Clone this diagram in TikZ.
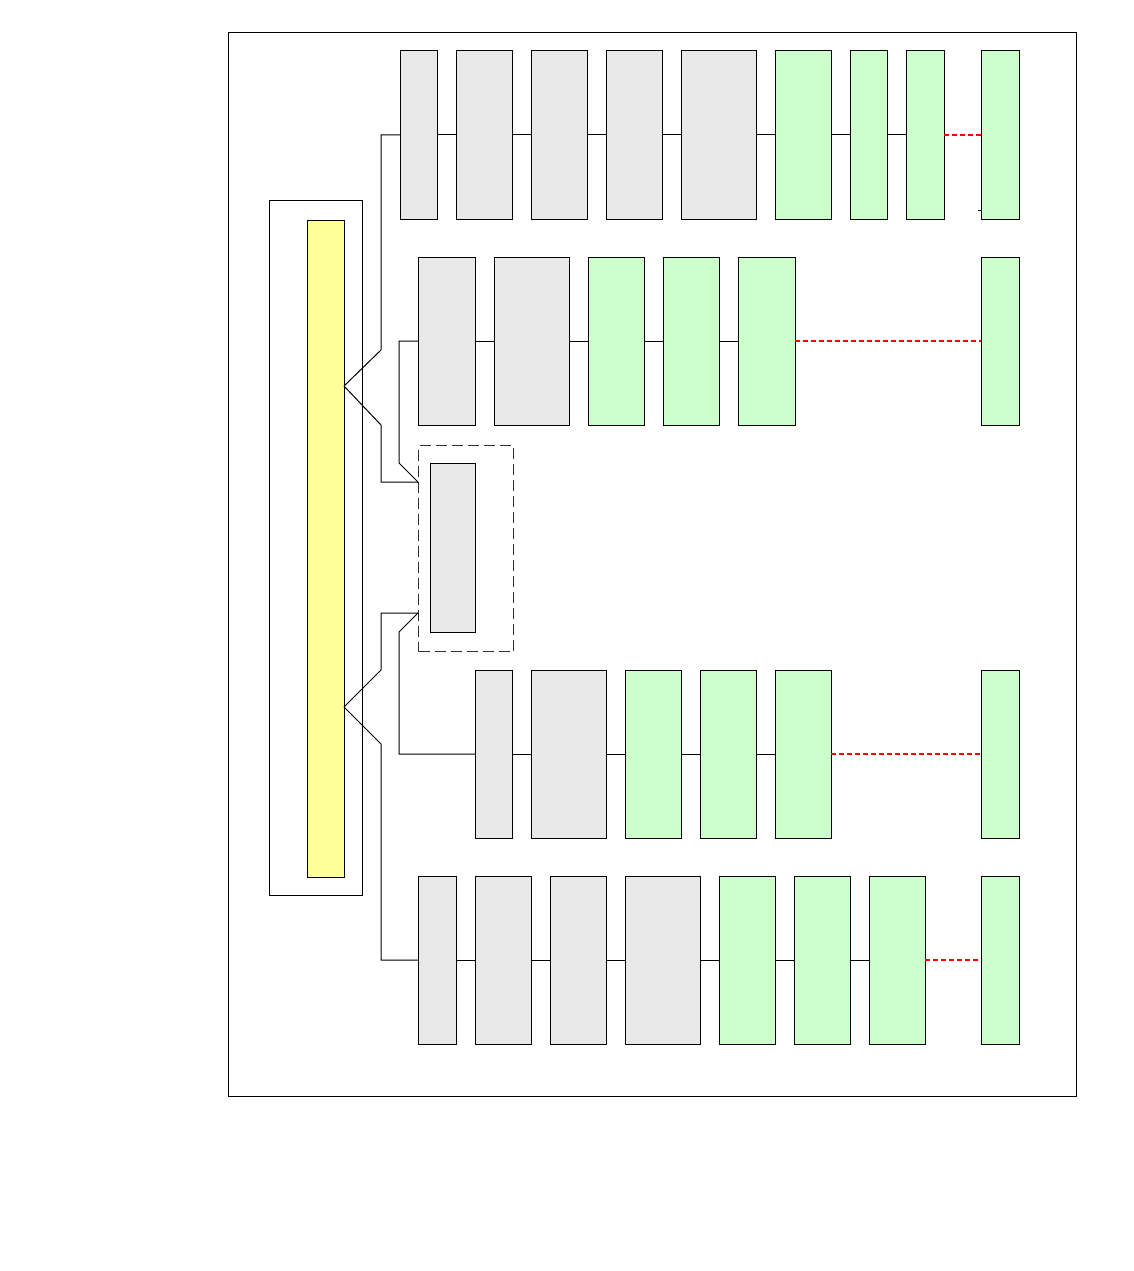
\documentclass[tikz,border=0pt]{standalone}
\definecolor{blockGray}{HTML}{E8E8E8}
\definecolor{blockGreen}{HTML}{CCFFCC}
\definecolor{busYellow}{HTML}{FFFF99}
\definecolor{frameDash}{HTML}{303030}
\usepackage{tikz}
\usetikzlibrary{positioning}
\usepackage{xcolor}

\begin{document}
\begin{tikzpicture}[x=1pt, y=-1pt,
    blk/.style={draw=black, line width=1pt, inner sep=0pt, outer sep=0pt,
                minimum height=168pt, anchor=north west},
    grayblk/.style={blk, fill=blockGray},
    greenblk/.style={blk, fill=blockGreen},
    link/.style={draw=black, line width=1pt},
    gap/.style={draw=red, line width=2.5pt, dash pattern=on 5pt off 3pt},
    node distance=19pt]
  \fill[white] (0,0) rectangle (1134,1271);
  \useasboundingbox (0,0) rectangle (1134,1271);
  % frames
  \draw[line width=1pt] (228,33) rectangle (1076,1096);
  \draw[line width=1pt] (269,200) rectangle (362,895);
  \node[draw=black, fill=busYellow, line width=1pt, inner sep=0pt, anchor=north west,
        minimum width=37pt, minimum height=657pt] (bus) at (307,220) {};
  % row 1
  \node[grayblk, minimum width=37pt] (r1a) at (400,51) {};
  \node[grayblk, minimum width=56pt, right=of r1a] (r1b) {};
  \node[grayblk, minimum width=56pt, right=of r1b] (r1c) {};
  \node[grayblk, minimum width=56pt, right=of r1c] (r1d) {};
  \node[grayblk, minimum width=75pt, right=of r1d] (r1e) {};
  \node[greenblk, minimum width=56pt, right=of r1e] (r1f) {};
  \node[greenblk, minimum width=37pt, right=of r1f] (r1g) {};
  \node[greenblk, minimum width=38pt, right=of r1g] (r1h) {};
  \node[greenblk, minimum width=38pt] (r1z) at (981,51) {};
  % row 2
  \node[grayblk, minimum width=57pt] (r2a) at (418,257) {};
  \node[grayblk, minimum width=75pt, right=of r2a] (r2b) {};
  \node[greenblk, minimum width=56pt, right=of r2b] (r2c) {};
  \node[greenblk, minimum width=56pt, right=of r2c] (r2d) {};
  \node[greenblk, minimum width=57pt, right=of r2d] (r2e) {};
  \node[greenblk, minimum width=38pt] (r2z) at (981,257) {};
  % spare block
  \node[draw=frameDash, line width=1.2pt, dash pattern=on 11pt off 5pt, anchor=north west,
        inner sep=0pt, minimum width=95pt, minimum height=206pt] (alt) at (418,445) {};
  \node[grayblk, minimum width=45pt, minimum height=169pt] (spare) at (430,463) {};
  % row 3
  \node[grayblk, minimum width=37pt] (r3a) at (475,670) {};
  \node[grayblk, minimum width=75pt, right=of r3a] (r3b) {};
  \node[greenblk, minimum width=56pt, right=of r3b] (r3c) {};
  \node[greenblk, minimum width=56pt, right=of r3c] (r3d) {};
  \node[greenblk, minimum width=56pt, right=of r3d] (r3e) {};
  \node[greenblk, minimum width=38pt] (r3z) at (981,670) {};
  % row 4
  \node[grayblk, minimum width=38pt] (r4a) at (418,876) {};
  \node[grayblk, minimum width=56pt, right=of r4a] (r4b) {};
  \node[grayblk, minimum width=56pt, right=of r4b] (r4c) {};
  \node[grayblk, minimum width=75pt, right=of r4c] (r4d) {};
  \node[greenblk, minimum width=56pt, right=of r4d] (r4e) {};
  \node[greenblk, minimum width=56pt, right=of r4e] (r4f) {};
  \node[greenblk, minimum width=56pt, right=of r4f] (r4g) {};
  \node[greenblk, minimum width=38pt] (r4z) at (981,876) {};
  % chains
  \draw[link] (r1a) -- (r1b) -- (r1c) -- (r1d) -- (r1e) -- (r1f) -- (r1g) -- (r1h);
  \draw[gap] (r1h) -- (r1z);
  \draw[link] ([yshift=9pt]r1z.south west) -- ++(-3,0);
  \draw[link] (r2a) -- (r2b) -- (r2c) -- (r2d) -- (r2e);
  \draw[gap] (r2e) -- (r2z);
  \draw[link] (r3a) -- (r3b) -- (r3c) -- (r3d) -- (r3e);
  \draw[gap] (r3e) -- (r3z);
  \draw[link] (r4a) -- (r4b) -- (r4c) -- (r4d) -- (r4e) -- (r4f) -- (r4g);
  \draw[gap] (r4g) -- (r4z);
  % feeds from the bus
  \coordinate (forkTop) at (344,386);
  \coordinate (forkLow) at (344,707);
  \coordinate (altIn) at (418,482);
  \coordinate (altOut) at (418,613);
  \draw[link] (forkTop) -- (381,350) |- (r1a.west);
  \draw[link] (forkTop) -- (381,425) |- (altIn);
  \draw[link] (r2a.west) -| (399,463) -- (altIn);
  \draw[link] (forkLow) -- (381,670) |- (altOut);
  \draw[link] (altOut) -- (399,632) |- (r3a.west);
  \draw[link] (forkLow) -- (381,744) |- (r4a.west);
\end{tikzpicture}
\end{document}
